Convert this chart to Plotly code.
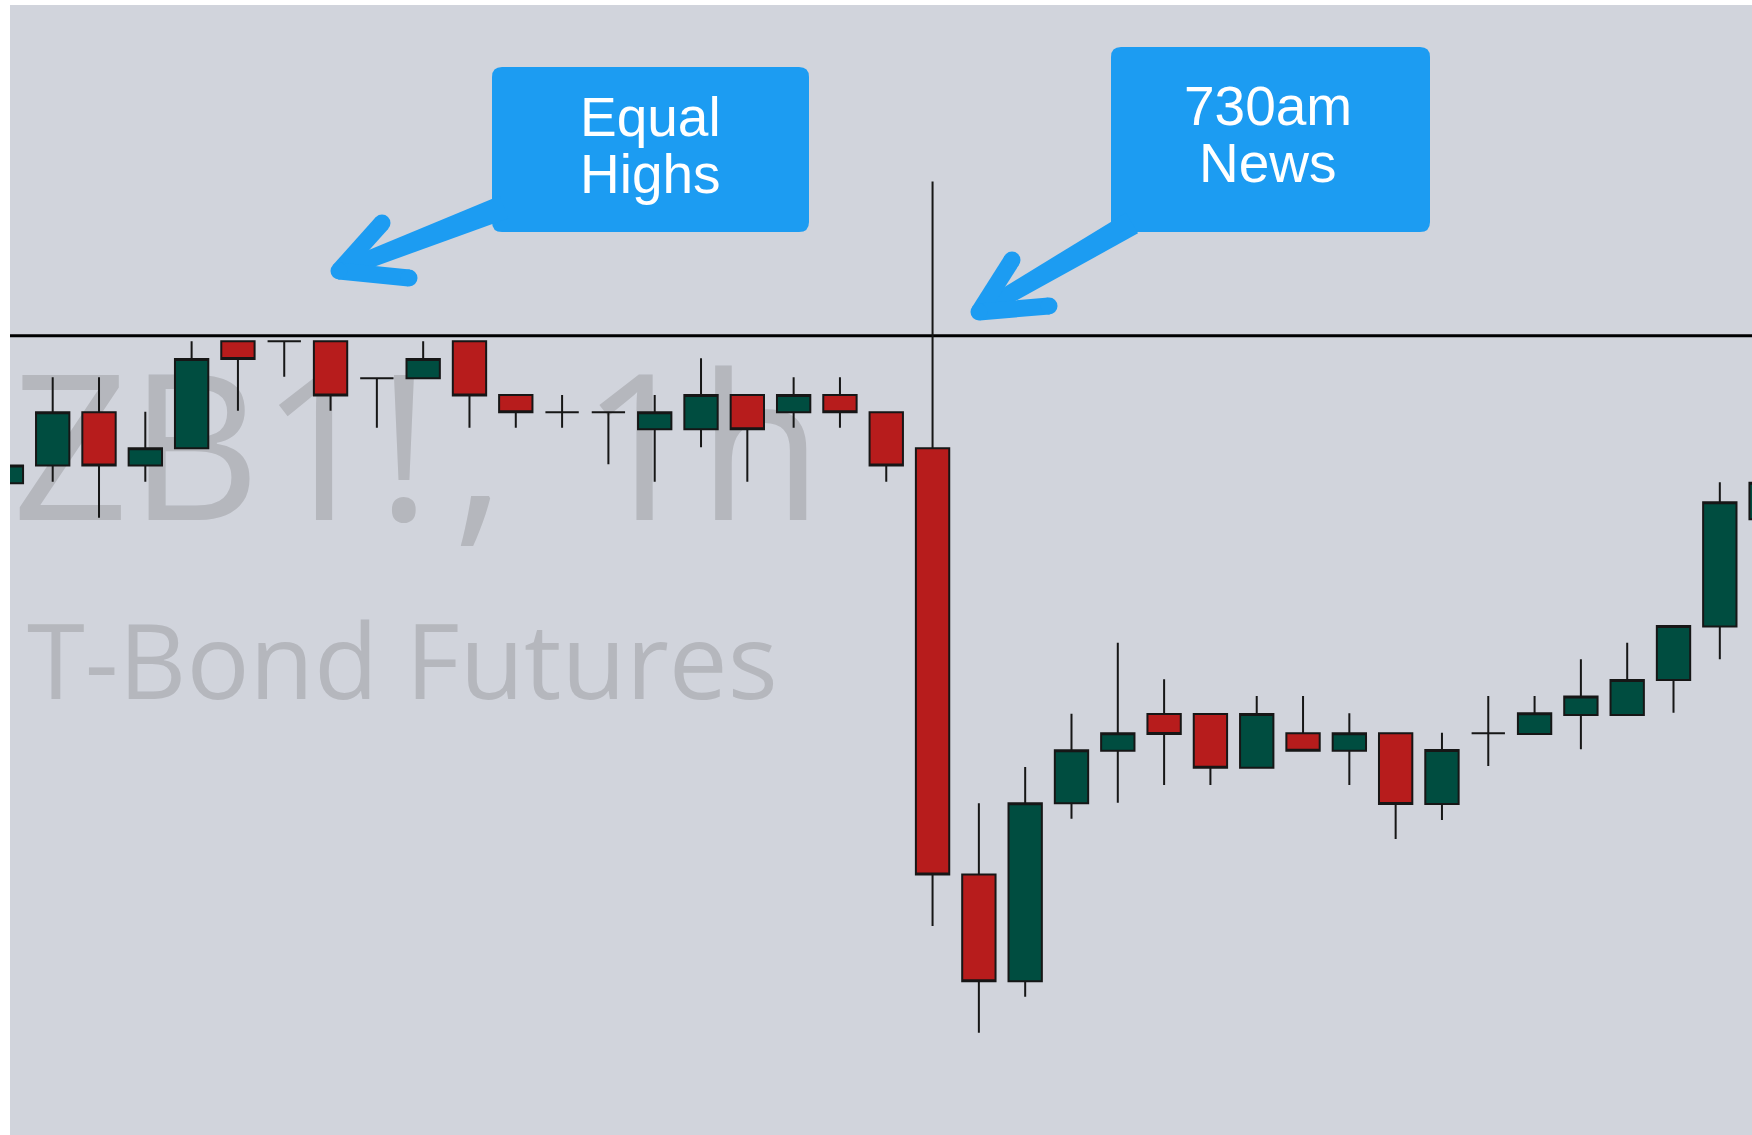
import math
import plotly.graph_objects as go

# ---------------- data (prices in 32nds above BASE) ----------------
BASE = 155.0
bar_index = list(range(39))
open_t = [35.24, 36.25, 39.30, 36.25, 37.24, 43.35, 43.35, 43.35, 41.24, 41.24,
          43.35, 40.29, 39.30, 39.30, 38.33, 38.33, 40.29, 39.30, 40.29, 39.30,
          37.24, 12.89, 6.79, 16.96, 19.96, 22.06, 22.06, 18.99, 20.95, 19.96,
          20.95, 16.91, 20.95, 20.91, 22.00, 22.00, 24.00, 27.05, 33.18]
high_t = [36.25, 41.30, 41.30, 39.33, 43.35, 43.35, 43.35, 43.35, 41.24, 43.35,
          43.35, 40.29, 40.29, 39.30, 40.29, 42.38, 40.29, 41.30, 41.30, 39.30,
          52.48, 16.96, 19.03, 22.07, 26.13, 24.04, 22.06, 23.09, 23.09, 22.10,
          20.95, 20.99, 23.09, 23.09, 25.18, 26.13, 27.09, 35.30, 35.27]
low_t = [35.24, 35.33, 33.27, 35.33, 37.24, 39.39, 41.33, 39.39, 38.42, 41.24,
         38.42, 38.42, 38.42, 36.33, 35.33, 37.30, 35.33, 38.42, 38.42, 35.33,
         9.94, 3.84, 5.90, 16.07, 16.99, 18.00, 18.00, 18.99, 19.96, 18.00,
         14.91, 16.00, 19.09, 20.91, 20.04, 22.00, 22.13, 25.18, 33.18]
close_t = [36.25, 39.30, 36.25, 37.24, 42.34, 42.34, 43.35, 40.25, 41.24, 42.34,
           40.25, 39.30, 39.30, 39.30, 39.30, 40.29, 38.33, 40.29, 39.30, 36.25,
           12.89, 6.79, 16.96, 19.98, 20.95, 20.91, 18.99, 22.06, 19.96, 20.95,
           16.91, 20.00, 20.95, 22.10, 23.05, 24.00, 27.09, 34.15, 35.27]
equal_highs_level_t = 43.67

watermark_symbol = "ZB1!, 1h"
watermark_pieces = ["ZB1", "!", ",", "1h"]   # the symbol watermark, spaced as in the picture
watermark_desc = "T-Bond Futures"
label_1 = ["Equal", "Highs"]
label_2 = ["730am", "News"]


def to_price(t):
    return BASE + t / 32.0


opens = [to_price(v) for v in open_t]
highs = [to_price(v) for v in high_t]
lows = [to_price(v) for v in low_t]
closes = [to_price(v) for v in close_t]

# ---------------- layout geometry ----------------
W, H = 1752, 1135
ML, MT = 10, 5
PW, PH = W - ML, H - MT
X0, X1 = 0.078, 37.695
T_TOP, T_BOT = 62.57, -2.0
Y0, Y1 = to_price(T_BOT), to_price(T_TOP)

BG = "#D1D4DC"
RED = "#B71C1C"
GREEN = "#004D40"
EDGE = "#161616"
BLUE = "#1C9CF2"
WM = "#B5B7BD"


def px(xp):
    return (xp - ML) / PW


def py(yp):
    return 1 - (yp - MT) / PH


def dx_(xp):
    return X0 + (xp - ML) / PW * (X1 - X0)


def dy_(yp):
    return Y1 - (yp - MT) / PH * (Y1 - Y0)


fig = go.Figure()

# ---- watermark on the base subplot (beneath the candles, clipped to the plot area)
wm_anchor_px = [12, 404, 479, 702]
wm_pos = ["middle right", "middle center", "middle center", "middle center"]
fig.add_trace(go.Scatter(x=[dx_(v) for v in wm_anchor_px], y=[dy_(469)] * len(watermark_pieces),
                         mode="text", text=watermark_pieces,
                         textposition=wm_pos, cliponaxis=True,
                         textfont=dict(family="Open Sans", size=204, color=WM),
                         hoverinfo="skip", showlegend=False, xaxis="x", yaxis="y"))
fig.add_trace(go.Scatter(x=[dx_(27)], y=[dy_(673)], mode="text", text=[watermark_desc],
                         textposition="middle right", cliponaxis=True,
                         textfont=dict(family="Open Sans", size=105, color=WM),
                         hoverinfo="skip", showlegend=False, xaxis="x", yaxis="y"))

# ---- candles on an overlaying subplot so they sit above the watermark
fig.add_trace(go.Candlestick(
    x=bar_index, open=opens, high=highs, low=lows, close=closes,
    increasing=dict(fillcolor=GREEN, line=dict(color=EDGE, width=2)),
    decreasing=dict(fillcolor=RED, line=dict(color=EDGE, width=2)),
    whiskerwidth=0, hoverinfo="skip", showlegend=False, xaxis="x2", yaxis="y2"))

shapes = []
shapes.append(dict(type="line", xref="paper", yref="y", x0=0, x1=1,
                   y0=to_price(equal_highs_level_t), y1=to_price(equal_highs_level_t),
                   line=dict(color="#000000", width=3), layer="below"))


def rrect(x0, y0, x1, y1, r):
    p = (f"M {px(x0+r)},{py(y0)} L {px(x1-r)},{py(y0)} Q {px(x1)},{py(y0)} {px(x1)},{py(y0+r)} "
         f"L {px(x1)},{py(y1-r)} Q {px(x1)},{py(y1)} {px(x1-r)},{py(y1)} "
         f"L {px(x0+r)},{py(y1)} Q {px(x0)},{py(y1)} {px(x0)},{py(y1-r)} "
         f"L {px(x0)},{py(y0+r)} Q {px(x0)},{py(y0)} {px(x0+r)},{py(y0)} Z")
    return dict(type="path", xref="paper", yref="paper", path=p, fillcolor=BLUE,
                line=dict(width=0), layer="above")


def circle(cx, cy, r):
    return dict(type="circle", xref="paper", yref="paper", x0=px(cx - r), x1=px(cx + r),
                y0=py(cy + r), y1=py(cy - r), fillcolor=BLUE, line=dict(width=0), layer="above")


def arrow(S, T, b1, b2, ws, wt, wb):
    ddx, ddy = T[0] - S[0], T[1] - S[1]
    L = math.hypot(ddx, ddy)
    nx, ny = -ddy / L, ddx / L
    pts = [(S[0] + nx * ws / 2, S[1] + ny * ws / 2), (T[0] + nx * wt / 2, T[1] + ny * wt / 2),
           (T[0] - nx * wt / 2, T[1] - ny * wt / 2), (S[0] - nx * ws / 2, S[1] - ny * ws / 2)]
    path = "M " + " L ".join(f"{px(a)},{py(b)}" for a, b in pts) + " Z"
    out = [dict(type="path", xref="paper", yref="paper", path=path, fillcolor=BLUE,
                line=dict(width=0), layer="above")]
    for b in (b1, b2):
        out.append(dict(type="path", xref="paper", yref="paper",
                        path=f"M {px(T[0])},{py(T[1])} L {px(b[0])},{py(b[1])}",
                        line=dict(color=BLUE, width=wb), layer="above"))
        out.append(circle(b[0], b[1], wb / 2))
    out.append(circle(T[0], T[1], wb / 2))
    return out


shapes.append(rrect(492, 67, 809, 232, 10))
shapes.append(rrect(1111, 47, 1430, 232, 10))
shapes += arrow((504, 207), (339, 271), (382, 223), (409, 278), 24, 16, 17)
shapes += arrow((1132, 223), (979, 312), (1012, 260), (1049, 306), 24, 16, 17)

annotations = []
FONT = dict(family="Liberation Sans, Arial, sans-serif", size=55, color="white")
for txt, cx, base in [(label_1[0], 650, 136), (label_1[1], 650, 193),
                      (label_2[0], 1268, 125), (label_2[1], 1268, 182)]:
    annotations.append(dict(text=txt, xref="paper", yref="paper", x=px(cx), y=py(base - 19),
                            xanchor="center", yanchor="middle", showarrow=False, font=FONT))

axis_common = dict(visible=False, showgrid=False, zeroline=False, fixedrange=True)
fig.update_layout(
    width=W, height=H,
    margin=dict(l=ML, r=0, t=MT, b=0, pad=0),
    paper_bgcolor="white", plot_bgcolor=BG,
    boxgap=0.28, boxgroupgap=0,
    showlegend=False,
    xaxis=dict(range=[X0, X1], rangeslider=dict(visible=False), **axis_common),
    yaxis=dict(range=[Y0, Y1], **axis_common),
    xaxis2=dict(range=[X0, X1], overlaying="x", rangeslider=dict(visible=False), **axis_common),
    yaxis2=dict(range=[Y0, Y1], overlaying="y", **axis_common),
    shapes=shapes, annotations=annotations,
    hovermode=False,
)

fig.write_html("out.html", config={"displayModeBar": False},
               post_script="document.body.style.margin='0';document.body.style.overflow='hidden';")
